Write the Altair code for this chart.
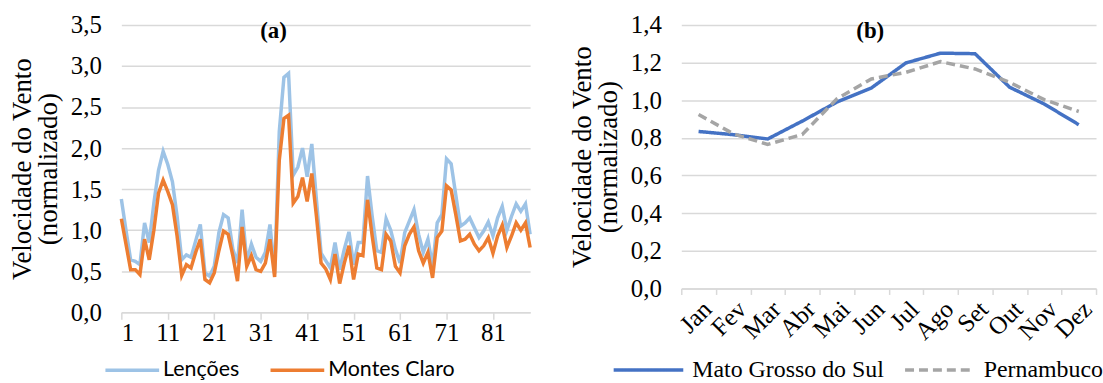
import altair as alt
import pandas as pd

# ---------------- data ----------------
idx = list(range(1, 90))
lencoes = [1.38, 1.00, 0.64, 0.62, 0.58, 1.09, 0.85, 1.33, 1.73, 1.96,
           1.80, 1.59, 1.17, 0.64, 0.70, 0.67, 0.87, 1.07, 0.48, 0.44,
           0.56, 0.97, 1.19, 1.15, 0.77, 0.60, 1.25, 0.62, 0.83, 0.67,
           0.62, 0.73, 1.07, 0.47, 2.20, 2.86, 2.91, 1.67, 1.77, 2.00,
           1.65, 2.05, 1.37, 0.72, 0.63, 0.54, 0.85, 0.52, 0.77, 0.98,
           0.58, 0.85, 0.85, 1.66, 1.17, 0.75, 0.73, 1.14, 1.00, 0.77,
           0.60, 0.97, 1.11, 1.25, 0.95, 0.73, 0.89, 0.56, 1.09, 1.19,
           1.87, 1.81, 1.43, 1.05, 1.09, 1.15, 1.03, 0.91, 0.99, 1.10,
           0.93, 1.15, 1.29, 1.00, 1.17, 1.32, 1.23, 1.32, 0.95]
montes = [1.14, 0.83, 0.52, 0.52, 0.46, 0.89, 0.64, 1.00, 1.45, 1.61,
          1.47, 1.31, 0.93, 0.45, 0.58, 0.54, 0.73, 0.89, 0.40, 0.36,
          0.48, 0.75, 0.99, 0.95, 0.69, 0.38, 1.04, 0.56, 0.69, 0.52,
          0.50, 0.60, 0.89, 0.43, 1.85, 2.36, 2.40, 1.33, 1.41, 1.64,
          1.35, 1.69, 1.17, 0.60, 0.53, 0.40, 0.71, 0.35, 0.60, 0.81,
          0.40, 0.71, 0.69, 1.37, 0.93, 0.54, 0.52, 0.95, 0.87, 0.56,
          0.48, 0.81, 0.95, 1.04, 0.75, 0.60, 0.73, 0.42, 0.91, 0.99,
          1.54, 1.49, 1.19, 0.87, 0.89, 0.95, 0.83, 0.75, 0.81, 0.91,
          0.72, 0.93, 1.06, 0.79, 0.93, 1.09, 1.00, 1.09, 0.79]
series_a = ["Lenções", "Montes Claro"]
ticks_a = [1, 11, 21, 31, 41, 51, 61, 71, 81]
yticks_a = [0, 0.5, 1.0, 1.5, 2.0, 2.5, 3.0, 3.5]

months = ["Jan", "Fev", "Mar", "Abr", "Mai", "Jun",
          "Jul", "Ago", "Set", "Out", "Nov", "Dez"]
mato_grosso = [0.834, 0.817, 0.794, 0.889, 0.990, 1.065,
               1.198, 1.250, 1.247, 1.069, 0.980, 0.870]
pernambuco = [0.924, 0.822, 0.765, 0.818, 1.007, 1.113,
              1.148, 1.205, 1.166, 1.095, 1.003, 0.940]
series_b = ["Mato Grosso do Sul", "Pernambuco"]
yticks_b = [0, 0.2, 0.4, 0.6, 0.8, 1.0, 1.2, 1.4]

SERIF = "'Liberation Serif', 'Times New Roman', Times, serif"
SANS = "Lato, 'Open Sans', sans-serif"
GRID = "#D9D9D9"
FS = 25

df_a = pd.DataFrame({
    "i": idx * 2,
    "v": lencoes + montes,
    "s": [series_a[0]] * len(idx) + [series_a[1]] * len(idx),
})
df_b = pd.DataFrame({
    "m": months * 2,
    "v": mato_grosso + pernambuco,
    "s": [series_b[0]] * 12 + [series_b[1]] * 12,
})

comma = "replace(format(datum.value, '.1f'), '.', ',')"


def yaxis(values):
    return alt.Axis(values=values, labelExpr=comma,
                    title=["Velocidade do Vento", "(normalizado)"],
                    titleFont=SERIF, titleFontSize=27, titleFontWeight="normal",
                    titleColor="black", titleLineHeight=26, titlePadding=8,
                    labelFont=SERIF, labelFontSize=FS, labelColor="black",
                    labelPadding=20, ticks=False, domain=False,
                    gridColor=GRID, gridWidth=1.5)


# ---------------- panel (a) ----------------
lines_a = alt.Chart(df_a).mark_line(strokeWidth=3.5).encode(
    x=alt.X("i:Q",
            scale=alt.Scale(domain=[1, 89], nice=False, zero=False),
            axis=alt.Axis(values=ticks_a, grid=False, title=None,
                          labelFont=SERIF, labelFontSize=FS, labelColor="black",
                          domainColor=GRID, domainWidth=1.5,
                          tickColor=GRID, tickWidth=1.5, tickSize=7,
                          labelPadding=1)),
    y=alt.Y("v:Q", scale=alt.Scale(domain=[0, 3.5], nice=False), axis=yaxis(yticks_a)),
    color=alt.Color("s:N", sort=series_a,
                    scale=alt.Scale(domain=series_a, range=["#9DC3E6", "#ED7D31"]),
                    legend=alt.Legend(title=None, orient="none", direction="horizontal",
                                      legendX=-18, legendY=335,
                                      symbolType="M-1,0H4.4", symbolSize=400,
                                      symbolStrokeWidth=3.5,
                                      labelFont=SANS, labelFontSize=21.5,
                                      labelColor="black", labelLimit=400,
                                      columnPadding=24, labelOffset=36,
                                      padding=0)),
)
title_a = alt.Chart(pd.DataFrame({"t": ["(a)"]})).mark_text(
    font=SERIF, fontSize=23, fontWeight="bold", color="black"
).encode(text="t:N", x=alt.value(153), y=alt.value(6))

panel_a = alt.layer(lines_a, title_a).properties(width=411, height=289)

# ---------------- panel (b) ----------------
leg_b = dict(title=None, orient="none", direction="horizontal",
             legendX=-70, legendY=335,
             symbolType="M-1,0H6", symbolSize=400, symbolStrokeWidth=3.5,
             labelFont=SERIF, labelFontSize=24, labelColor="black", labelLimit=400,
             columnPadding=14, labelOffset=57, padding=0)
lines_b = alt.Chart(df_b).mark_line(strokeWidth=3.5).encode(
    x=alt.X("m:N", sort=months, bandPosition=0.5,
            scale=alt.Scale(type="band", domain=months, paddingInner=0, paddingOuter=0),
            axis=alt.Axis(title=None, tickBand="extent", labelAngle=315,
                          labelFont=SERIF, labelFontSize=FS, labelColor="black",
                          domainColor=GRID, domainWidth=1.5,
                          tickColor=GRID, tickWidth=1.5, tickSize=6,
                          labelPadding=2, grid=False)),
    y=alt.Y("v:Q", scale=alt.Scale(domain=[0, 1.4], nice=False), axis=yaxis(yticks_b)),
    color=alt.Color("s:N", sort=series_b,
                    scale=alt.Scale(domain=series_b, range=["#4472C4", "#A5A5A5"]),
                    legend=alt.Legend(**leg_b)),
    strokeDash=alt.StrokeDash("s:N", sort=series_b,
                              scale=alt.Scale(domain=series_b, range=[[1, 0], [9, 5]]),
                              legend=alt.Legend(**leg_b)),
)
title_b = alt.Chart(pd.DataFrame({"t": ["(b)"]})).mark_text(
    font=SERIF, fontSize=23, fontWeight="bold", color="black"
).encode(text="t:N", x=alt.value(190), y=alt.value(6))

panel_b = alt.layer(lines_b, title_b).properties(width=417, height=265)

chart = alt.hconcat(panel_a, panel_b, spacing=31).properties(
    padding={"left": 8, "top": 12, "right": 0, "bottom": 0},
    background="white",
).configure_view(stroke=None).resolve_scale(color="independent", strokeDash="independent")

chart.save("out.html", embed_options={"renderer": "svg", "actions": False})
